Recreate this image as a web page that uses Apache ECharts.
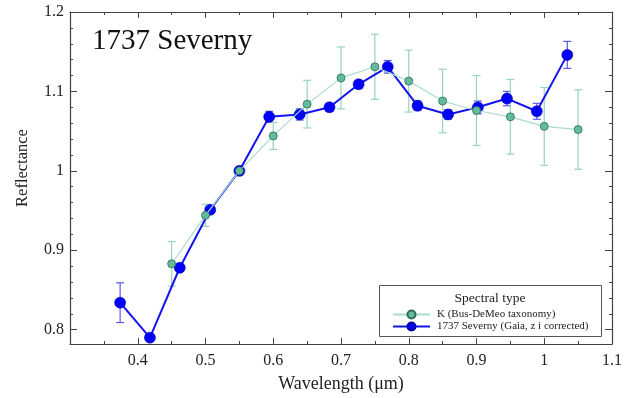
<!DOCTYPE html>
<html>
<head>
<meta charset="utf-8">
<script src="https://cdn.jsdelivr.net/npm/echarts@6/dist/echarts.min.js"></script>
<style>html,body{margin:0;padding:0;background:#fff}#c{width:626px;height:398px}</style>
</head>
<body>
<div id="c"></div>
<script>
var greenName = 'K (Bus-DeMeo taxonomy)';
var blueName = '1737 Severny (Gaia, z i corrected)';
var blueX = [0.374, 0.418, 0.462, 0.507, 0.550, 0.594, 0.639, 0.683, 0.726, 0.769, 0.813, 0.858, 0.902, 0.945, 0.989, 1.034];
var blueY = [0.834, 0.790, 0.878, 0.951, 1.000, 1.068, 1.071, 1.080, 1.109, 1.131, 1.082, 1.071, 1.080, 1.091, 1.075, 1.146];
var blueErr = [0.025, 0.003, 0.004, 0.004, 0.005, 0.007, 0.007, 0.005, 0.005, 0.008, 0.006, 0.006, 0.008, 0.009, 0.010, 0.017];
var greenX = [0.45, 0.50, 0.55, 0.60, 0.65, 0.70, 0.75, 0.80, 0.85, 0.90, 0.95, 1.00, 1.05];
var greenY = [0.883, 0.944, 1.000, 1.044, 1.084, 1.117, 1.131, 1.113, 1.088, 1.076, 1.068, 1.056, 1.052];
var greenErr = [0.028, 0.014, 0.004, 0.017, 0.030, 0.039, 0.041, 0.039, 0.040, 0.044, 0.047, 0.049, 0.050];
var yMajor = [0.8, 0.9, 1.0, 1.1, 1.2];
var yMinor = [0.8, 0.82, 0.84, 0.86, 0.88, 0.9, 0.92, 0.94, 0.96, 0.98, 1.0, 1.02, 1.04, 1.06, 1.08, 1.1, 1.12, 1.14, 1.16, 1.18, 1.2];

var FONT = 'Liberation Serif';
function pts(xs, ys) { return xs.map(function (x, i) { return [x, ys[i]]; }); }
function errData(xs, ys, es) { return xs.map(function (x, i) { return [x, ys[i] - es[i], ys[i] + es[i]]; }); }
function errRender(color) {
  return function (params, api) {
    var lo = api.coord([api.value(0), api.value(1)]);
    var hi = api.coord([api.value(0), api.value(2)]);
    var w = 4;
    var st = { stroke: color, lineWidth: 1.2 };
    return { type: 'group', children: [
      { type: 'line', shape: { x1: lo[0], y1: lo[1], x2: hi[0], y2: hi[1] }, style: st },
      { type: 'line', shape: { x1: lo[0] - w, y1: lo[1], x2: lo[0] + w, y2: lo[1] }, style: st },
      { type: 'line', shape: { x1: hi[0] - w, y1: hi[1], x2: hi[0] + w, y2: hi[1] }, style: st }
    ]};
  };
}
var axisLineStyle = { color: '#444', width: 1.2 };
var Y_MIN = 0.782, Y_MAX = 1.2;
function xAxisDef(pos, showLabel) {
  return {
    type: 'value', position: pos, min: 0.3, max: 1.1, interval: 0.1,
    axisLine: { show: true, onZero: false, lineStyle: axisLineStyle },
    axisTick: { show: true, inside: true, length: 6, lineStyle: { color: '#444' } },
    minorTick: { show: true, splitNumber: 2, length: 3, lineStyle: { color: '#444' } },
    splitLine: { show: false },
    axisLabel: { show: showLabel, fontFamily: FONT, fontSize: 16, color: '#222', margin: 9,
      formatter: function (v) { var r = Math.round(v * 10) / 10; return r < 0.35 ? '' : String(r); } },
    name: showLabel ? 'Wavelength (\u03bcm)' : '', nameLocation: 'middle', nameGap: 31,
    nameTextStyle: { fontFamily: FONT, fontSize: 18, color: '#222' }
  };
}
function yAxisMinor(pos, showLabel) {
  return {
    type: 'value', position: pos, min: Y_MIN, max: Y_MAX,
    axisLine: { show: true, onZero: false, lineStyle: axisLineStyle },
    axisTick: { show: true, inside: true, length: 3, customValues: yMinor, lineStyle: { color: '#444' } },
    splitLine: { show: false },
    axisLabel: { show: showLabel, fontFamily: FONT, fontSize: 16, color: '#222', margin: 6,
      customValues: yMajor,
      formatter: function (v) { return String(Math.round(v * 10) / 10); } }
  };
}
function yAxisMajor(pos) {
  return {
    type: 'value', position: pos, min: Y_MIN, max: Y_MAX,
    axisLine: { show: false },
    axisTick: { show: true, inside: true, length: 7, customValues: yMajor, lineStyle: { color: '#444' } },
    splitLine: { show: false },
    axisLabel: { show: false }
  };
}

var chart = echarts.init(document.getElementById('c'), null, { renderer: 'canvas' });
chart.setOption({
  animation: false,
  backgroundColor: '#fff',
  textStyle: { fontFamily: FONT },
  title: { text: '1737 Severny', left: 92, top: 27, padding: 0,
    textStyle: { fontFamily: FONT, fontSize: 29, fontWeight: 'normal', color: '#111' } },
  grid: { left: 70, right: 14, top: 12, bottom: 52 },
  xAxis: [xAxisDef('bottom', true), xAxisDef('top', false)],
  yAxis: [yAxisMinor('left', true), yAxisMajor('left'), yAxisMinor('right', false), yAxisMajor('right')],
  graphic: [
    { type: 'text', x: 23, y: 168, rotation: Math.PI / 2, z: 10,
      style: { text: 'Reflectance', font: '16.5px "Liberation Serif"', fill: '#222', align: 'center', verticalAlign: 'middle' } },
    { type: 'rect', left: 379, top: 285, z: 50, shape: { width: 222, height: 51 },
      style: { fill: '#fff', stroke: '#555', lineWidth: 1 } },
    { type: 'text', x: 490, y: 298, z: 51,
      style: { text: 'Spectral type', font: '13.5px "Liberation Serif"', fill: '#222', align: 'center', verticalAlign: 'middle' } }
  ],
  legend: {
    z: 60, orient: 'vertical', left: 392, top: 309, padding: 0, itemGap: 1,
    itemWidth: 37, itemHeight: 10,
    textStyle: { fontFamily: FONT, fontSize: 11, color: '#222', padding: [0, 0, 0, 2] },
    data: [greenName, blueName]
  },
  series: [
    { type: 'custom', name: 'blueErr', xAxisIndex: 0, yAxisIndex: 0, z: 1,
      renderItem: errRender('#5a5af0'), data: errData(blueX, blueY, blueErr) },
    { type: 'custom', name: 'greenErr', xAxisIndex: 0, yAxisIndex: 0, z: 2,
      renderItem: errRender('#98d2bf'), data: errData(greenX, greenY, greenErr) },
    { type: 'line', name: blueName, xAxisIndex: 0, yAxisIndex: 0, z: 3,
      data: pts(blueX, blueY), symbol: 'circle', symbolSize: 11,
      lineStyle: { color: '#1414f0', width: 2 },
      itemStyle: { color: '#0000ff', borderColor: '#00009a', borderWidth: 0.6 } },
    { type: 'line', name: greenName, xAxisIndex: 0, yAxisIndex: 0, z: 4,
      data: pts(greenX, greenY), symbol: 'circle', symbolSize: 8,
      lineStyle: { color: '#a9dccb', width: 1.2 },
      itemStyle: { color: '#62bb9c', borderColor: '#2e6b58', borderWidth: 0.8 } }
  ]
});
</script>
</body>
</html>
